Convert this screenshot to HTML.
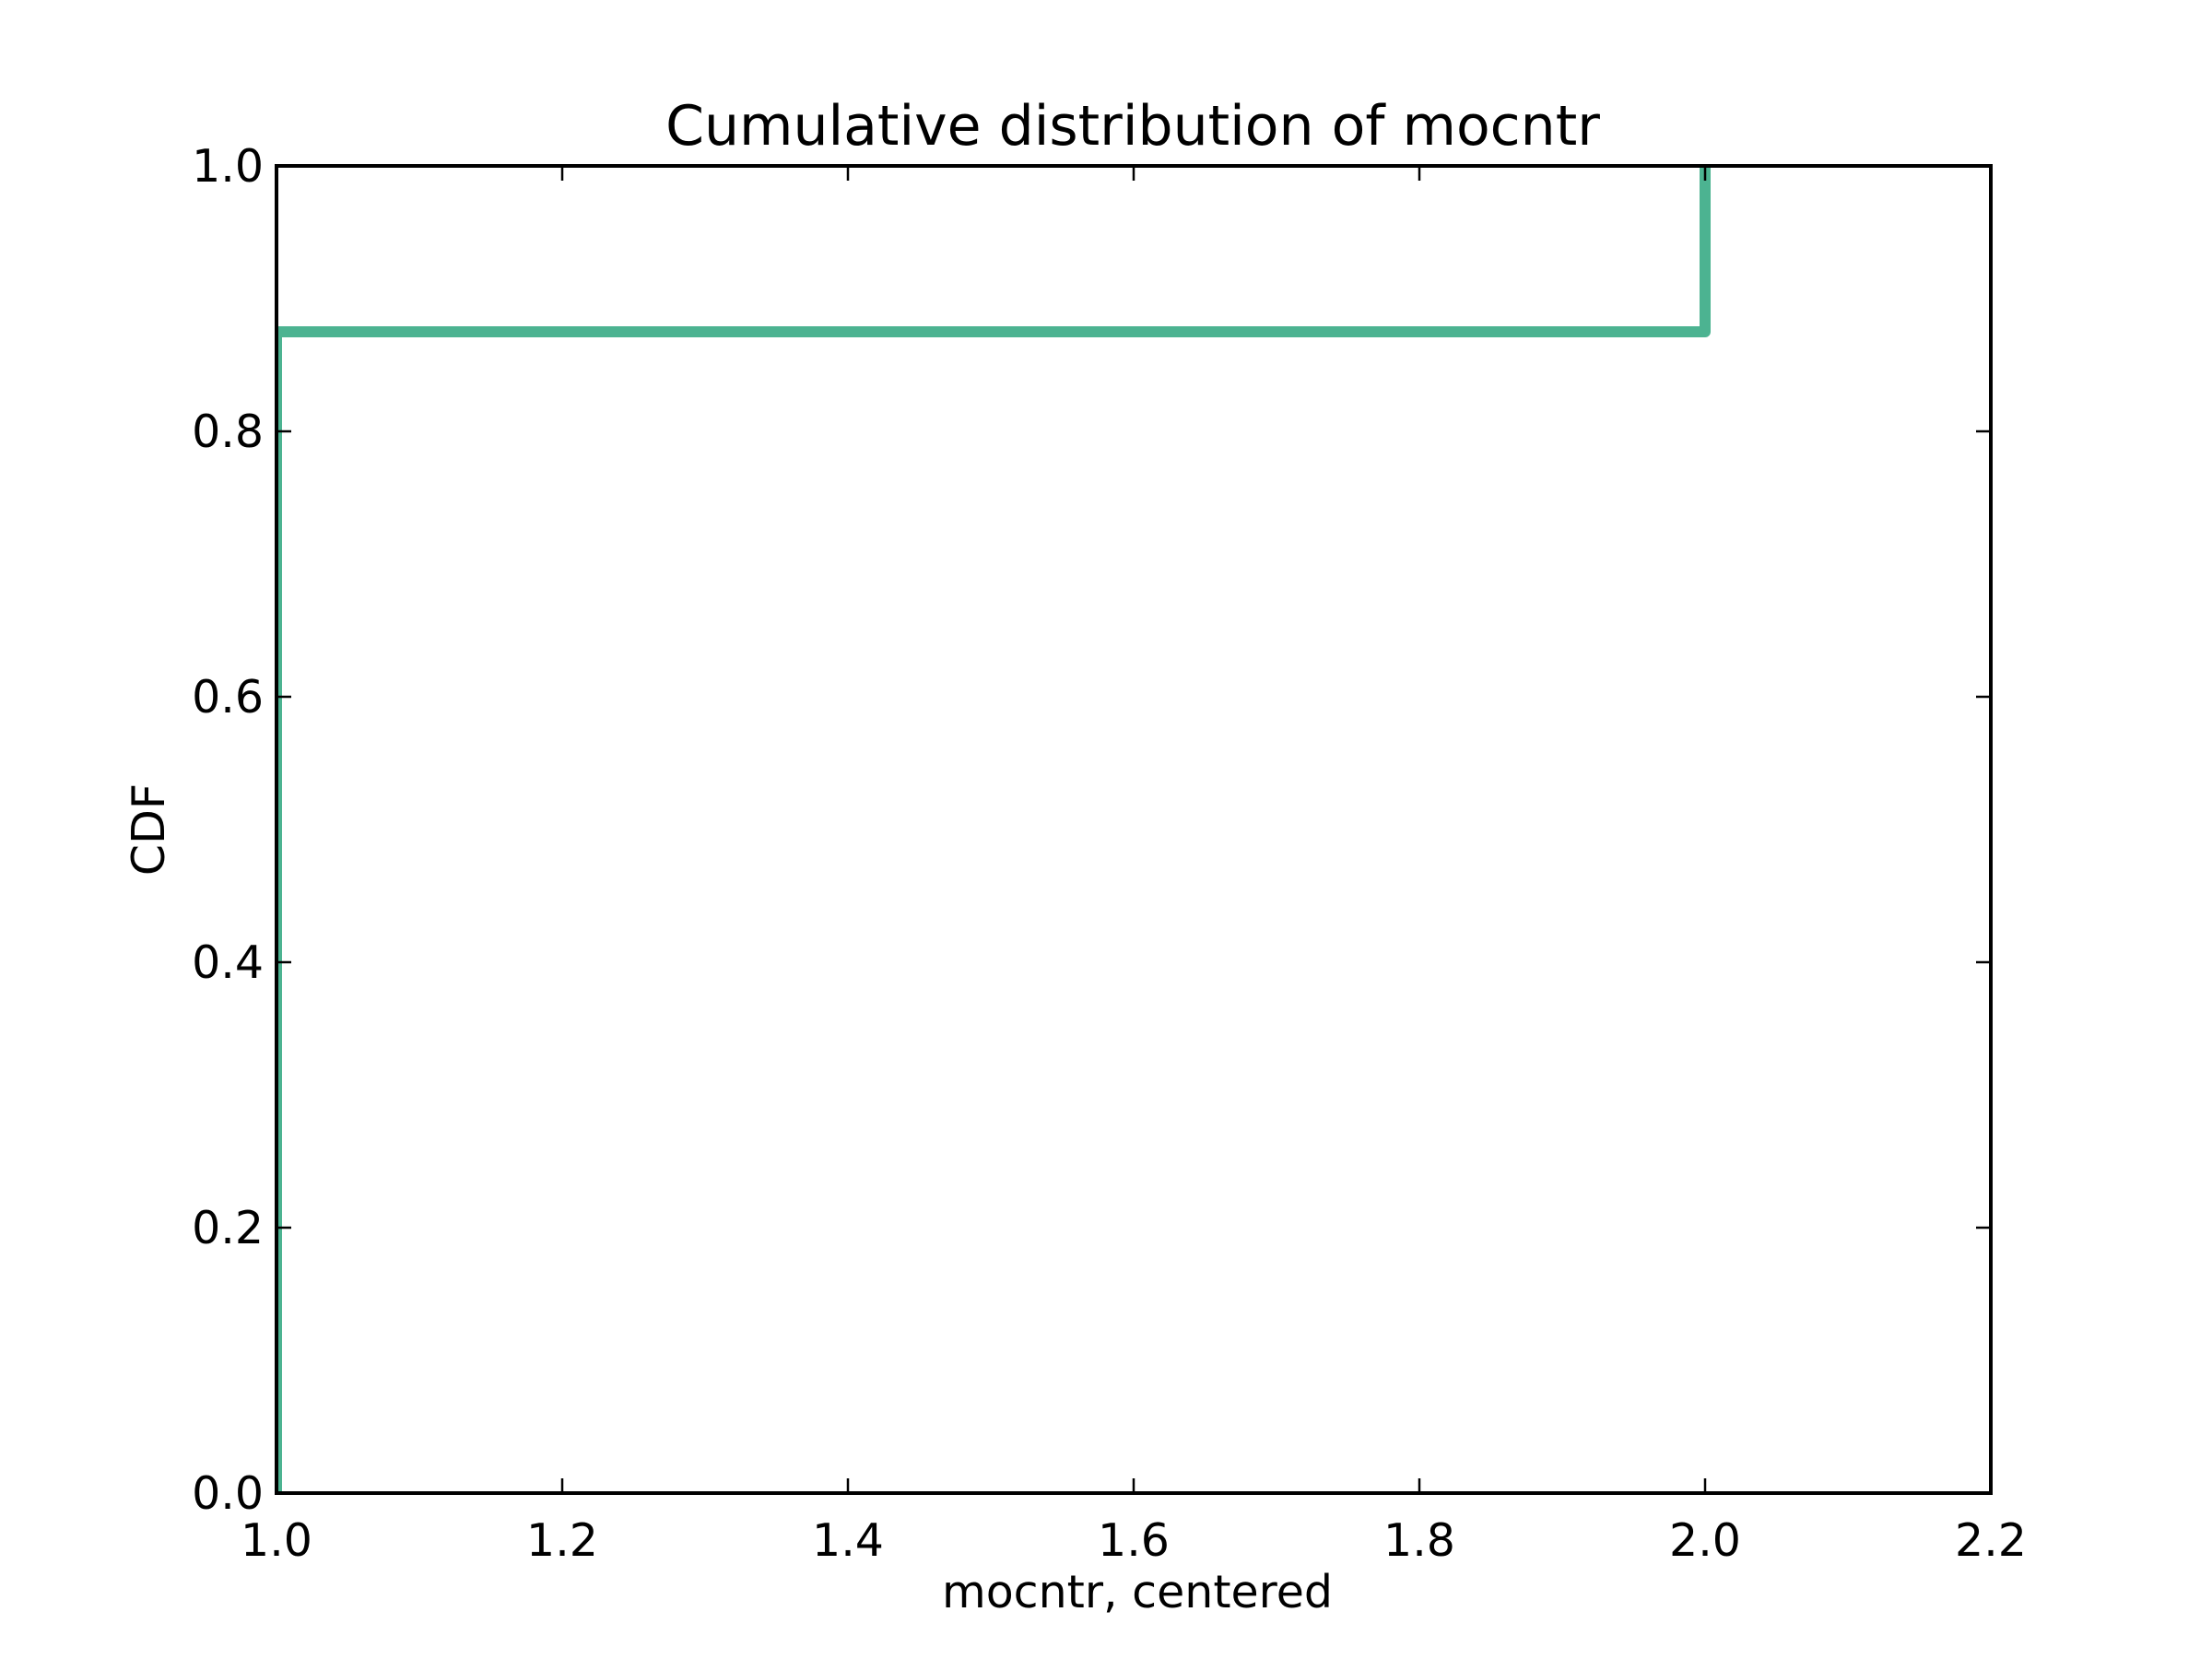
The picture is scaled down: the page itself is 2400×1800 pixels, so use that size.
<!DOCTYPE html>
<html><head><meta charset="utf-8"><style>
html,body{margin:0;padding:0;background:#fff}
svg{display:block}
text{font-family:"DejaVu Sans","Liberation Sans",sans-serif;fill:#000}
</style></head><body>
<svg id="chart" width="2400" height="1800" viewBox="0 0 2400 1800">
<defs><clipPath id="clip"><rect x="300" y="180" width="1860" height="1440"/></clipPath></defs>
<rect x="0" y="0" width="2400" height="1800" fill="#fff"/>
<g id="series" clip-path="url(#clip)"></g>
<g id="ticks"></g>
<rect x="300" y="180" width="1860" height="1440" fill="none" stroke="#000" stroke-width="4"/>
<text x="1229" y="157" font-size="60" text-anchor="middle">Cumulative distribution of mocntr</text>
<text x="1234" y="1744" font-size="49" text-anchor="middle">mocntr, centered</text>
<text x="0" y="0" font-size="49" text-anchor="middle" transform="translate(178,900) rotate(-90)">CDF</text>
</svg>
<script>
const xs = [1.0, 1.0, 2.0, 2.0];
const ys = [0.0, 0.875, 0.875, 1.0];
const xTicks = [1.0, 1.2, 1.4, 1.6, 1.8, 2.0, 2.2];
const yTicks = [0.0, 0.2, 0.4, 0.6, 0.8, 1.0];
const xTickLabels = ["1.0","1.2","1.4","1.6","1.8","2.0","2.2"];
const yTickLabels = ["0.0","0.2","0.4","0.6","0.8","1.0"];
const L=300,R=2160,T=180,B=1620,xMin=1.0,xMax=2.2,yMin=0,yMax=1;
const sx=v=>L+(v-xMin)/(xMax-xMin)*(R-L);
const sy=v=>B-(v-yMin)/(yMax-yMin)*(B-T);
const NS='http://www.w3.org/2000/svg';
const series=document.getElementById('series');
const p=document.createElementNS(NS,'path');
p.setAttribute('d',xs.map((x,i)=>(i?'L':'M')+sx(x)+' '+sy(ys[i])).join(' '));
p.setAttribute('fill','none');p.setAttribute('stroke','#4cb391');p.setAttribute('stroke-width','12');
p.setAttribute('stroke-linejoin','round');p.setAttribute('stroke-linecap','round');


series.appendChild(p);
const tg=document.getElementById('ticks');
function line(x1,y1,x2,y2){const l=document.createElementNS(NS,'line');l.setAttribute('x1',x1);l.setAttribute('y1',y1);l.setAttribute('x2',x2);l.setAttribute('y2',y2);l.setAttribute('stroke','#000');l.setAttribute('stroke-width','2.5');


tg.appendChild(l);}
function txt(x,y,s,anchor){const t=document.createElementNS(NS,'text');t.setAttribute('x',x);t.setAttribute('y',y);t.setAttribute('font-size','49');t.setAttribute('text-anchor',anchor);t.textContent=s;


tg.appendChild(t);}
xTicks.forEach((v,i)=>{const x=sx(v);line(x,B,x,B-16);line(x,T,x,T+16);txt(x,B+68,xTickLabels[i],'middle');});
yTicks.forEach((v,i)=>{const y=sy(v);line(L,y,L+16,y);line(R,y,R-16,y);txt(L-14,y+17,yTickLabels[i],'end');});
</script>
</body></html>
